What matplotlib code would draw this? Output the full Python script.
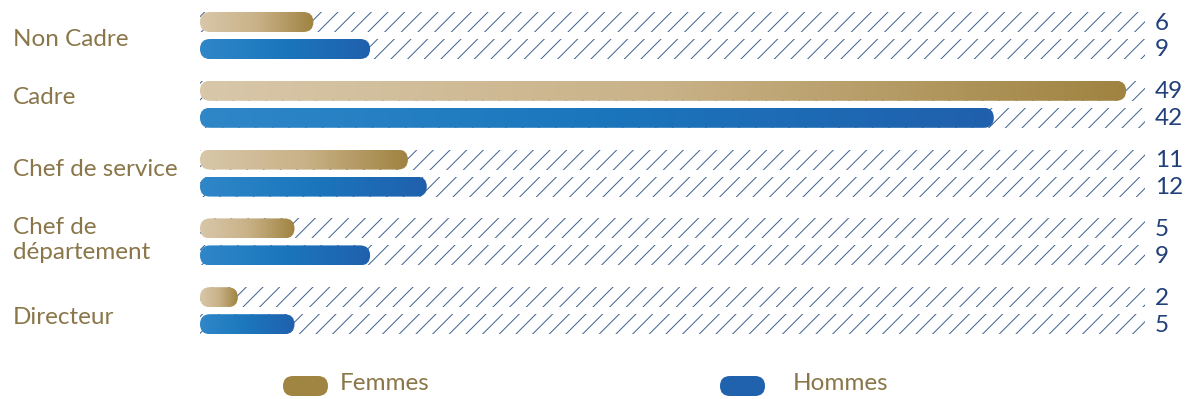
import numpy as np
import matplotlib
matplotlib.use("Agg")
import matplotlib.pyplot as plt
from matplotlib.patches import FancyBboxPatch, Rectangle
from matplotlib.colors import LinearSegmentedColormap

# %% data
categories = ["Non Cadre", "Cadre", "Chef de service", "Chef de\ndépartement", "Directeur"]
femmes = [6, 49, 11, 5, 2]
hommes = [9, 42, 12, 9, 5]
series_names = ["Femmes", "Hommes"]
x_max = 50

# %% style
W, H = 1191, 399
gold_cmap = LinearSegmentedColormap.from_list("gold", ["#d8c7a9", "#c9b288", "#a08341"])
blue_cmap = LinearSegmentedColormap.from_list("blue", ["#2f87c8", "#1b76bc", "#2060ad"])
label_color = "#8a7649"
value_color = "#22407a"
hatch_color = "#3d5f90"
fs = 17.5

plt.rcParams["hatch.linewidth"] = 0.7
plt.rcParams["font.family"] = ["Lato", "DejaVu Sans"]

fig = plt.figure(figsize=(W / 100, H / 100), dpi=100)
# overlay in pixel coordinates for labels and legend
ov = fig.add_axes([0, 0, 1, 1])
ov.set_xlim(0, W)
ov.set_ylim(H, 0)
ov.axis("off")

x0_px, x1_px = 200, 1145
ax = fig.add_axes([x0_px / W, 0, (x1_px - x0_px) / W, 1])
ax.set_xlim(0, x_max)
ax.set_ylim(H, 0)
ax.axis("off")

px_per_unit = (x1_px - x0_px) / x_max
bar_h = 20
radius = bar_h / 2
row_top = 22
row_gap = 68.8
pair_gap = 27
label_y = [39, 97, 169, 240, 317]


def rounded_gradient_bar(ax, value, yc, cmap):
    rs = radius / px_per_unit
    patch = FancyBboxPatch((0, yc - bar_h / 2), value, bar_h,
                           boxstyle=f"round,pad=0,rounding_size={rs}",
                           mutation_aspect=px_per_unit,
                           facecolor="none", edgecolor="none", zorder=3)
    ax.add_patch(patch)
    grad = np.linspace(0, 1, 256).reshape(1, -1)
    im = ax.imshow(grad, cmap=cmap, aspect="auto", interpolation="bicubic",
                   extent=[0, value, yc + bar_h / 2, yc - bar_h / 2], zorder=3)
    im.set_clip_path(patch)


for i, cat in enumerate(categories):
    yf = row_top + i * row_gap
    yh = yf + pair_gap
    for yc, val, cmap in [(yf, femmes[i], gold_cmap), (yh, hommes[i], blue_cmap)]:
        track = Rectangle((0, yc - bar_h / 2), x_max, bar_h, facecolor="none",
                          edgecolor=hatch_color, linewidth=0, hatch="//", zorder=1)
        ax.add_patch(track)
        rounded_gradient_bar(ax, val, yc, cmap)
        ov.text(1155, yc + 1, str(val), ha="left", va="center", fontsize=fs,
                color=value_color)
    ov.text(13, label_y[i], cat, ha="left", va="center", fontsize=fs,
            color=label_color, linespacing=1.2)

ax.set_xlim(0, x_max)
ax.set_ylim(H, 0)

# legend
leg_y = 386
for x, name, color, tx in [(283, series_names[0], "#a08441", 340),
                           (720, series_names[1], "#2062ae", 793)]:
    pill = FancyBboxPatch((x, leg_y - 10), 45, 20, boxstyle="round,pad=0,rounding_size=10",
                          facecolor=color, edgecolor="none")
    ov.add_patch(pill)
    ov.text(tx, leg_y - 2, name, ha="left", va="center", fontsize=fs, color=label_color)

fig.savefig("out.png", dpi=100)
